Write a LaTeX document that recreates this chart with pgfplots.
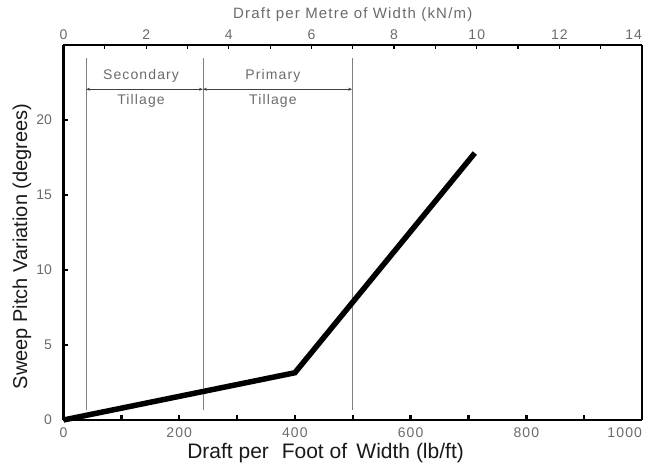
\documentclass[border=0pt]{standalone}
\usepackage{fontspec}
\setmainfont{Liberation Sans}
\newfontfamily\tickfont{Liberation Sans}[LetterSpace=8]
\usepackage{pgfplots}
\pgfplotsset{compat=1.18}
\usetikzlibrary{calc,arrows.meta}
\definecolor{txtgray}{gray}{0.42}
\definecolor{linegray}{gray}{0.5}
\begin{document}
\begin{tikzpicture}
\begin{axis}[
  scale only axis, width=578.5pt, height=375pt,
  xmin=0, xmax=1000, ymin=0, ymax=25,
  axis x line*=bottom, axis y line*=left,
  x axis line style={line width=2.5pt,-},
  y axis line style={line width=3.5pt,-},
  xtick={0,100,...,1000},
  xticklabels={0,,200,,400,,600,,800,,\makebox[0pt][r]{1000}},
  ytick={0,5,10,15,20},
  tick align=inside, major tick length=5pt,
  xtick style={line width=2.5pt,black},
  ytick style={line width=2.5pt,black},
  /pgf/number format/assume math mode=true,
  xticklabel style={font=\tickfont\fontsize{14}{14}\selectfont, text=txtgray, yshift=-4pt},
  yticklabel style={font=\fontsize{14}{14}\selectfont, text=txtgray, xshift=-8pt},
  xlabel={Draft per\,\, Foot of\, Width (lb/ft)},
  ylabel={Sweep Pitch Variation (degrees)},
  xlabel style={font=\fontsize{21}{21}\selectfont, at={(axis description cs:0.453,-0.088)}, anchor=center, text=black!90},
  ylabel style={font=\fontsize{20}{20}\selectfont, at={(axis description cs:-0.0717,0.463)}, anchor=center, rotate=0, text=black!90},
  clip=false,
]
\coordinate (o) at (rel axis cs:0,0);
% region boundaries
\addplot[linegray, line width=0.8pt] coordinates {(39,0.67) (39,24.1)};
\addplot[linegray, line width=0.8pt] coordinates {(241,0.67) (241,24.1)};
\addplot[linegray, line width=0.8pt] coordinates {(499,0.67) (499,24.1)};
\draw[{Stealth[length=4pt,width=3pt]}-{Stealth[length=4pt,width=3pt]}, line width=0.6pt, black!75] (axis cs:39,22.05) -- (axis cs:241,22.05);
\draw[{Stealth[length=4pt,width=3pt]}-{Stealth[length=4pt,width=3pt]}, line width=0.6pt, black!75] (axis cs:241,22.05) -- (axis cs:499,22.05);
\node[font=\tickfont\fontsize{14}{14}\selectfont, text=txtgray] at (axis cs:134,22.95) {Secondary};
\node[font=\tickfont\fontsize{14}{14}\selectfont, text=txtgray] at (axis cs:134,21.25) {Tillage};
\node[font=\tickfont\fontsize{14}{14}\selectfont, text=txtgray] at (axis cs:362,22.95) {Primary};
\node[font=\tickfont\fontsize{14}{14}\selectfont, text=txtgray] at (axis cs:362,21.25) {Tillage};
% data
\addplot[black, line width=5.5pt, line join=miter] coordinates {(0,0) (400,3.15) (711,17.8)};
\end{axis}
\begin{axis}[
  scale only axis, width=578.5pt, height=375pt,
  xmin=0, xmax=14, ymin=0, ymax=25,
  axis x line*=top, axis y line*=right,
  axis line style={line width=1.2pt,-},
  xtick={0,1,...,14},
  xticklabels={0,,2,,4,,6,,8,,10,,12,,\makebox[0pt][r]{14}},
  ytick=\empty,
  tick align=inside, major tick length=4pt,
  xtick style={line width=1.2pt,black},
  xticklabel style={font=\tickfont\fontsize{14}{14}\selectfont, text=txtgray, yshift=2pt},
  xlabel={Draft per Metre of Width (kN/m)},
  xlabel style={font=\tickfont\fontsize{15}{15}\selectfont, at={(axis description cs:0.5,1.08)}, anchor=center, text=txtgray},
]
\end{axis}
\pgfresetboundingbox
\path ($(o)+(-63.5pt,-48pt)$) rectangle ++(654pt,468pt);
\end{tikzpicture}
\end{document}
